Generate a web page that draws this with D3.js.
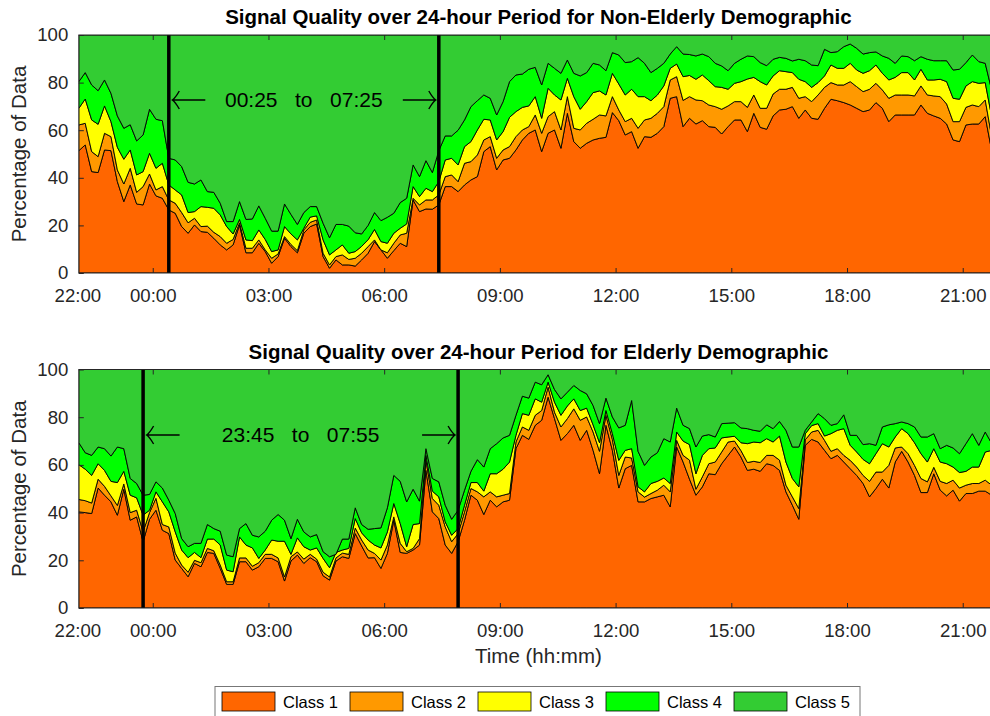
<!DOCTYPE html>
<html>
<head>
<meta charset="utf-8">
<script src="https://cdn.jsdelivr.net/npm/d3@7"></script>
<style>
  body { margin: 0; background: #fff; }
  svg { display: block; font-family: "Liberation Sans", Arial, sans-serif; }
</style>
</head>
<body>
<svg id="chart" width="990" height="716"></svg>
<script>
// classes, from worst (1) to best (5)
const classNames = ["Class 1", "Class 2", "Class 3", "Class 4", "Class 5"];
const classColors = ["#ff6600", "#ff9900", "#ffff00", "#00ff00", "#33cc33"];

// samples every 10 minutes, first one at 22:05 (minutes counted from 22:00)
const firstMinute = 5;
const stepMinutes = 10;
const tickMinutes = [0, 120, 300, 480, 660, 840, 1020, 1200, 1380];
const tickLabels = ["22:00", "00:00", "03:00", "06:00", "09:00", "12:00", "15:00", "18:00", "21:00"];
const yTicks = [0, 20, 40, 60, 80, 100];

// cumulative percentage at the top of class 1..4 (class 5 fills up to 100)
const nonElderlyTop1 = [51.4, 53.8, 42.6, 42.2, 51.7, 51.4, 38.4, 30, 37, 29,
  28.6, 37.4, 32.4, 31.4, 26.5, 25.1, 19.5, 16.7, 20.2, 17.4,
  17.1, 14.6, 11.8, 9.7, 11.8, 20.2, 8.5, 8.5, 12.5, 9,
  4.1, 6.9, 14.6, 11.1, 8.5, 16.7, 19.5, 20.6, 6.9, 2,
  5.5, 3.4, 3.4, 2.9, 5.5, 8.3, 13.2, 9.7, 6.2, 9.4,
  12.5, 11.1, 30.7, 25.8, 26.9, 26.8, 28.6, 36.3, 36.3, 34.2,
  37, 39.1, 40.5, 51, 53.1, 43.3, 47.5, 48.2, 51.7, 55.9,
  58.7, 60.1, 51, 58.7, 60.1, 52.4, 67.1, 55.2, 52.4, 54.5,
  55.9, 56.6, 57, 67.4, 64, 58, 59.4, 52.4, 57.3, 57,
  58.7, 61.5, 73.4, 74.1, 61.5, 65, 62.6, 64, 61.5, 61.2,
  58.4, 61.5, 64.3, 64.3, 59.4, 67.1, 61.2, 60.4, 66, 68.5,
  68.8, 69.9, 65, 68.5, 65, 64.6, 69.2, 73, 72.4, 71.6,
  70.6, 69.2, 67.8, 68.5, 71.6, 69.2, 63.6, 66.4, 66.4, 66.4,
  66.4, 70.6, 67.1, 66, 65, 62.6, 55.9, 55.2, 62.2, 62.6,
  62.6, 65.7, 51.5, 52];
const nonElderlyTop2 = [62.2, 62.9, 51, 48.9, 58.7, 57.3, 43.3, 37.4, 44, 33.9,
  36.3, 41.6, 34.9, 36.3, 30.7, 29.3, 25.4, 21.1, 23, 19.5,
  19.7, 17.1, 15.3, 12.5, 14.1, 21.1, 10.4, 10.4, 13.9, 9.7,
  6.2, 8, 15.3, 12, 9.4, 18.1, 21.3, 22.3, 8.3, 3.4,
  6.9, 7.6, 5.7, 6.2, 8.3, 11.1, 13.9, 9.7, 8.5, 12.5,
  16, 16.7, 31.4, 28.6, 30.7, 30.7, 32.8, 40.5, 41.2, 38.4,
  46.1, 46.8, 49.6, 55.9, 57.3, 48.2, 51.7, 53.1, 57.3, 60.1,
  61.5, 66.4, 58.7, 65.7, 67.8, 60.1, 74.1, 60.8, 60.1, 62.9,
  64.6, 66.4, 66, 74.1, 68.5, 63.6, 65, 60.8, 64.3, 65,
  67.1, 69.9, 81.1, 82.5, 72.5, 74.1, 72.7, 72.4, 70.6, 69.9,
  68.8, 70.2, 72, 72, 69.6, 74.8, 69.2, 69.2, 75.2, 77.2,
  77.2, 78, 73.4, 74.1, 72, 74.8, 78, 80, 79, 79,
  80.4, 78.3, 76.2, 77.2, 79.7, 76.9, 73.4, 74.8, 74.8, 74.8,
  74.4, 78.6, 74.8, 74.4, 74.1, 71, 63.6, 63.6, 69.6, 70.6,
  69.9, 72.7, 57.3, 58];
const nonElderlyTop3 = [69.2, 73.1, 64.3, 62.5, 70.2, 63.6, 52.8, 47.8, 51.7, 41.2,
  42.6, 50.3, 44, 46.1, 37, 34.9, 32.8, 25.4, 25.8, 27.9,
  27.6, 27.2, 24.4, 19.5, 16.4, 22.5, 13.9, 13.6, 18.1, 14.1,
  9, 9.7, 19.5, 16.4, 13.9, 18.8, 23.5, 24, 13.9, 7.6,
  9.7, 11.8, 8.3, 9, 11.2, 14, 18.3, 13.2, 12.5, 16.7,
  18.8, 20.6, 36.3, 32.1, 35.6, 34.2, 38.4, 47.5, 48.2, 45.4,
  53.1, 55.2, 60.1, 64.6, 64.3, 55.9, 59.4, 65.4, 67.8, 69.6,
  70.2, 74.1, 65, 77.6, 74.8, 72.7, 81.8, 74.1, 68.8, 72,
  75.8, 76.5, 74.8, 83.9, 79.4, 74.8, 77.2, 74.1, 74.1, 72.4,
  74.8, 78.6, 86, 87.8, 82.5, 83, 81.4, 83.2, 80.8, 78.3,
  78, 77.2, 79.7, 80.4, 81.5, 82.2, 80.4, 79, 82.8, 85,
  84.6, 84.2, 81.4, 80.4, 78, 80, 82.8, 87.4, 86, 86,
  88.1, 85.3, 83.9, 85, 87.4, 83.9, 81.1, 82.2, 84.2, 84.2,
  81.1, 85.6, 81.1, 81.1, 81.4, 80.4, 73.4, 73, 78.6, 80.4,
  79.7, 80, 65.7, 66.4];
const nonElderlyTop4 = [80.4, 84.2, 79, 76.6, 81.1, 75.5, 66, 60.8, 62.3, 55.5,
  58, 68.8, 64.6, 64, 48.2, 47.5, 44.7, 38.1, 37.4, 39.1,
  34.2, 33.9, 29.3, 21.6, 21.6, 30, 22.5, 22.7, 28.2, 23,
  17.6, 17.6, 29, 24.6, 20.4, 25.4, 27.9, 27.9, 20.9, 14.8,
  20.4, 20.4, 19.7, 16.9, 16.4, 20, 25.4, 22, 23.4, 25.1,
  29.6, 31.4, 45.4, 40.5, 47.2, 42.2, 51.4, 57.6, 57.6, 60,
  64.3, 69.9, 72.4, 74.8, 73.4, 66.4, 72, 80.4, 83.2, 83.6,
  85.6, 86.4, 79, 88.1, 86, 83.9, 89.5, 83.9, 82.8, 84.2,
  88.1, 87.4, 85, 92.6, 91.6, 88.4, 88.8, 90.5, 88.1, 84.2,
  86, 88.1, 92, 95.1, 92, 91.8, 91.2, 92, 90.9, 88.1,
  87, 85, 88.1, 89.8, 91.2, 90.9, 88.4, 87.1, 89.8, 90.6,
  90.2, 89.1, 89.8, 89.2, 87.4, 87.1, 94, 92.6, 93, 95.1,
  96.2, 94.4, 92, 92.6, 92.9, 91.2, 90.2, 88.1, 91.2, 90.9,
  89.2, 90.9, 89.8, 89.2, 89.2, 89.2, 85.3, 85.6, 88.4, 91.6,
  88.8, 88.1, 76.9, 75];

const elderlyTop1 = [40.3, 40, 39.6, 50.3, 47.3, 44.5, 38.9, 49.8, 36.8, 38.2,
  27.8, 37.2, 41, 32.6, 31.2, 20.1, 16.6, 13.1, 18.7, 17.3,
  23.3, 22.9, 16.6, 9.9, 9.9, 19.4, 19.4, 15.9, 17.3, 20.8,
  20.8, 19.4, 11.3, 19.7, 22.2, 18.7, 21.1, 19.4, 13.5, 11.7,
  19.7, 21.5, 20.8, 31.2, 26, 21, 21.1, 16.6, 22.9, 36.8,
  23.3, 22.9, 24.3, 26.4, 57.7, 40.3, 37.5, 26.4, 22.9, 27.8,
  36.8, 47.3, 45.2, 39.2, 45.2, 42.4, 44.5, 45.2, 66.8, 72.4,
  70.7, 76.6, 78.7, 88.4, 79.4, 70.3, 73.1, 76.6, 70.3, 74.5,
  66.1, 56.3, 76.6, 66.1, 50.3, 58.4, 59.8, 44.5, 44.5, 45.9,
  46.6, 47.3, 42.4, 67.5, 61.2, 54, 47.3, 50.8, 56.3, 55.9,
  60.5, 64, 67.5, 63.3, 57.7, 58.2, 57.3, 60.5, 59.8, 57.7,
  48.7, 43.1, 37.2, 68.2, 70.7, 69.6, 66.1, 62.6, 64, 61.2,
  58.4, 55.6, 52.2, 46.6, 50.1, 54, 50.3, 61.2, 65.7, 61.2,
  55.6, 48.4, 48.4, 56.3, 49.4, 47, 49.4, 44.8, 48, 48,
  49, 49, 47.3, 47];
const elderlyTop2 = [45.5, 45, 44, 54, 51, 47, 43, 52, 40, 41,
  32, 40, 46, 35, 34, 23, 18, 15, 20, 19,
  25, 24, 18, 11, 11, 21, 21, 17.5, 19, 22.5,
  22.5, 21, 13, 21.5, 23.5, 20.5, 22.5, 20.5, 15, 13,
  21, 23, 22.5, 33.5, 28.5, 24.3, 22.9, 20.1, 26.4, 38.2,
  27.1, 23.6, 25, 29.1, 61.9, 45.9, 43.1, 34, 27.8, 31.2,
  40.3, 50.1, 48.7, 46.6, 48.7, 46.6, 47.3, 48, 69.6, 75.9,
  74.5, 80.8, 82.8, 92.6, 82.1, 75.9, 79.4, 83.5, 78.7, 80.1,
  73.8, 65.7, 80.8, 70.7, 55.6, 63.3, 62.9, 48.7, 46.5, 48,
  49.4, 51.5, 48.7, 70.3, 64, 62, 49.8, 55, 60.5, 61.2,
  65.4, 69.6, 70, 66, 61, 61.5, 61, 64, 64, 62,
  51.5, 46.6, 41.7, 70.5, 73.8, 74.5, 70.3, 65.7, 66.8, 64,
  61.9, 59.1, 55.6, 53.1, 57, 57, 59.8, 67.1, 67.5, 64.7,
  59.8, 54.3, 52.9, 59, 53.1, 52.2, 53.6, 50.3, 51.5, 52.2,
  52.2, 53.6, 51.5, 51.2];
const elderlyTop3 = [60.1, 58.2, 55.6, 60.5, 57.7, 53.1, 52.6, 57.3, 47.3, 46.2,
  38.9, 41, 48.7, 44.5, 40.3, 31.9, 24.3, 21.1, 23.3, 21.1,
  28.9, 28.9, 26.4, 15.9, 15.2, 29.8, 26.4, 25.2, 20.8, 24.3,
  28.5, 28, 28, 22.5, 29.4, 25.7, 24.3, 25.2, 20.8, 16.9,
  23.3, 24.3, 25, 37.5, 31.5, 28.5, 26.4, 25.2, 31.9, 43.8,
  35.4, 25.7, 35, 35.4, 64, 49, 46.6, 36.1, 30.5, 33.3,
  43.1, 52.6, 52.6, 49, 56.3, 56.3, 58.2, 61.2, 72.4, 81.5,
  80.8, 87.7, 86.3, 94.7, 86.3, 80.8, 84.7, 87.7, 82.8, 83.8,
  76.8, 69.3, 82.8, 73.1, 61.9, 66.1, 66.8, 50.8, 48.7, 52.2,
  53.1, 54.5, 52.2, 73.8, 70, 68.5, 56.3, 64, 66.8, 67.1,
  71.3, 71.7, 72, 69.3, 68.9, 69.6, 69.3, 71, 69.6, 72.1,
  61.2, 54.3, 50.8, 73, 76.5, 77.3, 72.1, 73.1, 74.5, 75.2,
  68.2, 65.4, 62.3, 60.5, 64.7, 68.9, 67.5, 71.7, 75.2, 73.1,
  69.3, 64.7, 61.2, 66.8, 61.2, 60.5, 59.1, 56.8, 57.3, 59.1,
  59.1, 65.4, 66.1, 65.7];
const elderlyTop4 = [69.3, 65.1, 64, 67.5, 66.8, 63.7, 67.5, 66.8, 54.3, 52.2,
  47.3, 47.6, 52.9, 50.3, 45.2, 39.6, 29.1, 25.7, 27.1, 27.1,
  35, 33.3, 32.2, 22.2, 21.5, 33.3, 35.4, 30.5, 29.8, 32.2,
  36.8, 39.2, 36.8, 29.1, 37.2, 31.9, 29.8, 30.8, 23.6, 21.5,
  22.5, 28.9, 28.9, 42, 35, 33, 33.3, 33.6, 42, 55.6,
  53.1, 44.5, 49.8, 44.8, 66.8, 54.3, 52.9, 43.1, 37.2, 41,
  49.4, 57.3, 62.2, 59.1, 66.8, 68.9, 71.3, 72.4, 80.8, 88.8,
  88, 94.7, 93.6, 97.8, 91.6, 87.7, 90.5, 93.3, 91.2, 89.8,
  84.9, 77.3, 88, 80.1, 75.5, 76.6, 87, 65.7, 59.8, 63.3,
  65.1, 71, 69.6, 83.8, 76.6, 75.2, 67.5, 72.1, 72.7, 71.7,
  77.3, 77.5, 77.7, 75.5, 75.2, 74.5, 74.1, 76.8, 75.2, 78.2,
  74.5, 67.5, 67.5, 74.5, 78, 81.5, 79.4, 76.6, 77.3, 81,
  72.4, 72.4, 68.5, 68.9, 68.2, 75.9, 76.8, 77.3, 78, 77.3,
  75.9, 71.7, 71.7, 73.1, 66.8, 68.2, 67.1, 64.7, 68.9, 73.1,
  68.2, 73.8, 69, 69];

// marked intervals (minutes from 22:00) and their labels
const nonElderlySpan = { start: 145, end: 565, label: "00:25   to   07:25" };
const elderlySpan = { start: 105, end: 595, label: "23:45   to   07:55" };

const svg = d3.select("#chart");
const axisColor = "#262626";

const x = d3.scaleLinear().domain([0, 1440]).range([75.6, 1001.3]);
const plotLeft = x(firstMinute);
const plotRight = x(1435);

function buildRows(tops) {
  return tops[0].map((_, i) => {
    const row = { t: firstMinute + i * stepMinutes };
    let below = 0;
    tops.forEach((top, k) => {
      row[classNames[k]] = top[i] - below;
      below = top[i];
    });
    row[classNames[4]] = 100 - below;
    return row;
  });
}

function drawPanel(id, tops, title, span, top, bottom, arrowY) {
  const y = d3.scaleLinear().domain([0, 100]).range([bottom, top]);
  const g = svg.append("g");

  g.append("clipPath").attr("id", id)
    .append("rect")
    .attr("x", plotLeft).attr("y", top)
    .attr("width", plotRight - plotLeft).attr("height", bottom - top);

  const series = d3.stack().keys(classNames)(buildRows(tops));
  const area = d3.area()
    .x((d) => x(d.data.t))
    .y0((d) => y(d[0]))
    .y1((d) => y(d[1]));

  const plot = g.append("g").attr("clip-path", `url(#${id})`);
  plot.selectAll("path.layer")
    .data(series)
    .enter()
    .append("path")
    .attr("class", "layer")
    .attr("d", area)
    .attr("fill", (d, i) => classColors[i])
    .attr("stroke", "#000")
    .attr("stroke-width", 0.9)
    .attr("stroke-linejoin", "round");

  // marked interval
  plot.selectAll("line.mark")
    .data([span.start, span.end])
    .enter()
    .append("line")
    .attr("class", "mark")
    .attr("x1", (d) => x(d)).attr("x2", (d) => x(d))
    .attr("y1", top).attr("y2", bottom)
    .attr("stroke", "#000")
    .attr("stroke-width", 3.5);

  const xa = x(span.start) + 3.5;
  const xb = x(span.end) - 3;
  const arrows = [
    { tip: xa, dir: 1 },
    { tip: xb, dir: -1 }
  ];
  plot.selectAll("path.arrow")
    .data(arrows)
    .enter()
    .append("path")
    .attr("class", "arrow")
    .attr("d", (a) => {
      const t = a.tip, s = a.dir;
      return `M${t},${arrowY}L${t + s * 33},${arrowY}` +
        `M${t + s * 7},${arrowY - 9}Q${t + s * 3},${arrowY - 2} ${t},${arrowY}` +
        `Q${t + s * 3},${arrowY + 2} ${t + s * 7},${arrowY + 9}`;
    })
    .attr("fill", "none")
    .attr("stroke", "#000")
    .attr("stroke-width", 1.4);

  plot.append("text")
    .attr("x", (x(span.start) + x(span.end)) / 2)
    .attr("y", arrowY + 7)
    .attr("text-anchor", "middle")
    .attr("font-size", 21)
    .style("white-space", "pre")
    .attr("fill", "#000")
    .text(span.label);

  // axes
  const xAxis = d3.axisBottom(x)
    .tickValues(tickMinutes)
    .tickFormat((d, i) => tickLabels[i])
    .tickSizeInner(-5)
    .tickSizeOuter(0)
    .tickPadding(15.5);
  const gx = g.append("g").attr("transform", `translate(0,${bottom})`).call(xAxis);
  gx.select(".domain").remove();
  gx.selectAll(".tick line").attr("stroke", axisColor);
  gx.selectAll(".tick text").attr("fill", axisColor).attr("font-size", 18.6);
  // first label sits at the left edge of the axes, without a tick
  const firstTick = gx.select(".tick");
  firstTick.attr("transform", `translate(${plotLeft - 1},0)`);
  firstTick.select("line").remove();

  const xTop = d3.axisTop(x)
    .tickValues(tickMinutes.slice(1))
    .tickFormat("")
    .tickSizeInner(-5)
    .tickSizeOuter(0);
  const gt = g.append("g").attr("transform", `translate(0,${top})`).call(xTop);
  gt.select(".domain").remove();
  gt.selectAll(".tick line").attr("stroke", axisColor);

  const yAxis = d3.axisLeft(y)
    .tickValues(yTicks)
    .tickSizeInner(-5)
    .tickSizeOuter(0)
    .tickPadding(10.5);
  const gy = g.append("g").attr("transform", `translate(${plotLeft},0)`).call(yAxis);
  gy.select(".domain").remove();
  gy.selectAll(".tick line").attr("stroke", axisColor);
  gy.selectAll(".tick text").attr("fill", axisColor).attr("font-size", 18.6);

  g.append("rect")
    .attr("x", plotLeft).attr("y", top)
    .attr("width", plotRight - plotLeft).attr("height", bottom - top)
    .attr("fill", "none")
    .attr("stroke", axisColor)
    .attr("stroke-width", 1);

  g.append("text")
    .attr("x", (plotLeft + plotRight) / 2)
    .attr("y", top - 11)
    .attr("text-anchor", "middle")
    .attr("font-size", 20.5)
    .attr("font-weight", "bold")
    .attr("fill", "#000")
    .text(title);

  g.append("text")
    .attr("transform", `translate(26,${(top + bottom) / 2}) rotate(-90)`)
    .attr("text-anchor", "middle")
    .attr("font-size", 20.5)
    .attr("fill", axisColor)
    .text("Percentage of Data");
}

drawPanel("clipTop", [nonElderlyTop1, nonElderlyTop2, nonElderlyTop3, nonElderlyTop4],
  "Signal Quality over 24-hour Period for Non-Elderly Demographic",
  nonElderlySpan, 35, 273, 100);

drawPanel("clipBottom", [elderlyTop1, elderlyTop2, elderlyTop3, elderlyTop4],
  "Signal Quality over 24-hour Period for Elderly Demographic",
  elderlySpan, 369.5, 608, 435);

svg.append("text")
  .attr("x", (plotLeft + plotRight) / 2)
  .attr("y", 663)
  .attr("text-anchor", "middle")
  .attr("font-size", 20.5)
  .attr("fill", axisColor)
  .text("Time (hh:mm)");

// legend
const legend = svg.append("g");
legend.append("rect")
  .attr("x", 215).attr("y", 686.5)
  .attr("width", 645).attr("height", 40)
  .attr("fill", "#fff")
  .attr("stroke", "#777")
  .attr("stroke-width", 1);

const items = legend.selectAll("g.item")
  .data(classNames)
  .enter()
  .append("g")
  .attr("class", "item")
  .attr("transform", (d, i) => `translate(${222 + i * 128},0)`);
items.append("rect")
  .attr("x", 0).attr("y", 692)
  .attr("width", 53).attr("height", 19)
  .attr("fill", (d, i) => classColors[i])
  .attr("stroke", "#000")
  .attr("stroke-width", 0.8);
items.append("text")
  .attr("x", 61).attr("y", 707.5)
  .attr("font-size", 16.5)
  .attr("fill", "#000")
  .text((d) => d);
</script>
</body>
</html>
